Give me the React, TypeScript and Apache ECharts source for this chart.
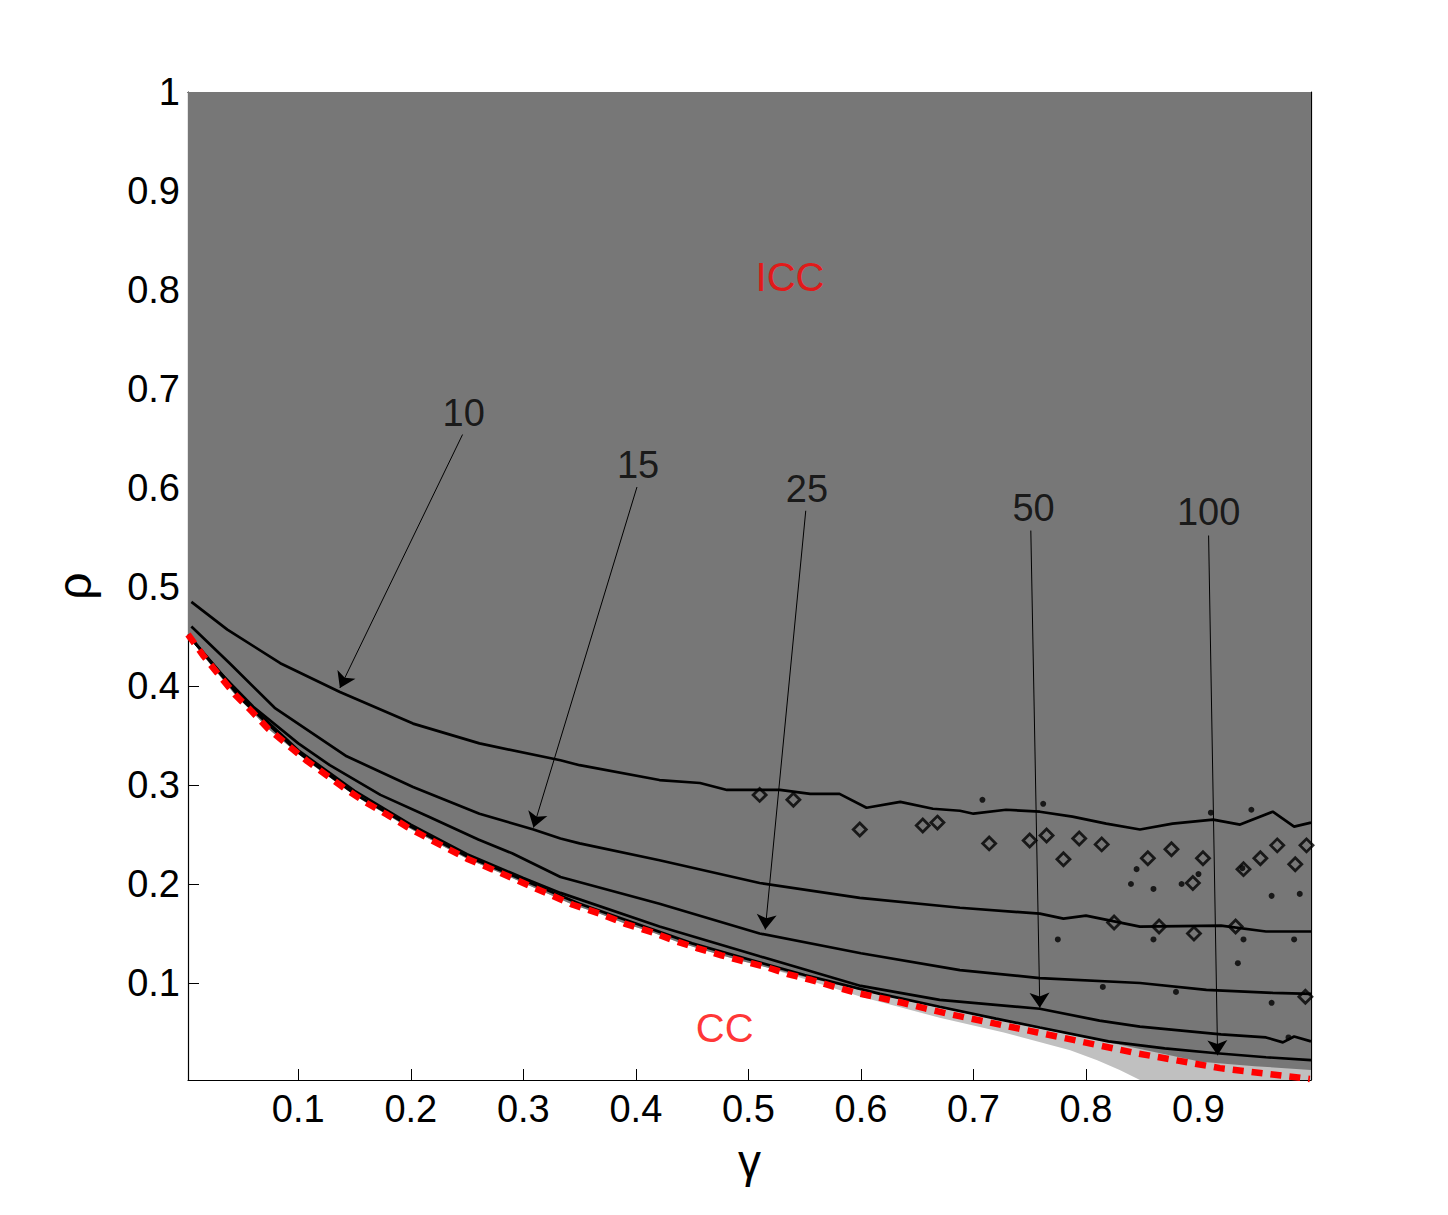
import React, { useEffect, useRef } from "react";
import * as echarts from "echarts";

const FONT = "Liberation Sans, Arial, Helvetica, sans-serif";

const xTicks = [0.1, 0.2, 0.3, 0.4, 0.5, 0.6, 0.7, 0.8, 0.9];
const yTicks = [0.1, 0.2, 0.3, 0.4, 0.5, 0.6, 0.7, 0.8, 0.9, 1];

// red dashed boundary between CC and ICC
const ccBoundary: number[][] = [
  [0.002, 0.452], [0.016, 0.43], [0.031, 0.409], [0.044, 0.391], [0.059, 0.374],
  [0.073, 0.357], [0.09, 0.341], [0.108, 0.324], [0.125, 0.31], [0.142, 0.296],
  [0.159, 0.283], [0.179, 0.27], [0.196, 0.258], [0.214, 0.247], [0.232, 0.236],
  [0.251, 0.225], [0.272, 0.215], [0.29, 0.206], [0.344, 0.179], [0.368, 0.17],
  [0.39, 0.16], [0.415, 0.151], [0.436, 0.142], [0.455, 0.135], [0.476, 0.128],
  [0.495, 0.122], [0.516, 0.116], [0.535, 0.109], [0.556, 0.103], [0.577, 0.096],
  [0.596, 0.09], [0.617, 0.085], [0.637, 0.08], [0.658, 0.074], [0.677, 0.069],
  [0.757, 0.05], [0.845, 0.029], [0.919, 0.014], [0.999, 0.003],
];

// lower edge of the dark grey (ICC) region, right part
const darkEdgeTail: number[][] = [
  [0.55, 0.106], [0.617, 0.088], [0.67, 0.075], [0.759, 0.054], [0.812, 0.042],
  [0.902, 0.0205], [0.95, 0.016], [1.0, 0.012],
];

// lower edge of the light grey region, right part
const lightEdgeTail: number[][] = [
  [0.55, 0.104], [0.6, 0.086], [0.64, 0.074], [0.67, 0.065], [0.727, 0.05],
  [0.786, 0.032], [0.81, 0.022], [0.83, 0.012], [0.848, 0.002], [1.0, 0.002],
];

const contour10: number[][] = [
  [0.005, 0.485], [0.037, 0.457], [0.084, 0.423], [0.137, 0.394], [0.202, 0.362],
  [0.261, 0.342], [0.333, 0.325], [0.35, 0.32], [0.421, 0.305], [0.457, 0.302],
  [0.481, 0.295], [0.495, 0.295], [0.528, 0.295], [0.555, 0.291], [0.581, 0.291],
  [0.605, 0.277], [0.635, 0.283], [0.664, 0.276], [0.688, 0.274], [0.7, 0.271],
  [0.729, 0.275], [0.759, 0.273], [0.788, 0.268], [0.818, 0.261], [0.848, 0.255],
  [0.877, 0.261], [0.913, 0.265], [0.937, 0.26], [0.966, 0.273], [0.985, 0.258],
  [1.0, 0.262],
];

const contour15: number[][] = [
  [0.005, 0.46], [0.039, 0.423], [0.079, 0.378], [0.143, 0.329], [0.202, 0.298],
  [0.261, 0.271], [0.309, 0.255], [0.333, 0.246], [0.35, 0.241], [0.421, 0.224],
  [0.51, 0.201], [0.599, 0.186], [0.688, 0.176], [0.759, 0.17], [0.78, 0.165],
  [0.8, 0.168], [0.848, 0.157], [0.92, 0.158], [0.96, 0.152], [1.0, 0.152],
];

const contour25: number[][] = [
  [0.002, 0.452], [0.03, 0.414], [0.06, 0.379], [0.1, 0.342], [0.128, 0.32],
  [0.173, 0.29], [0.216, 0.268], [0.26, 0.245], [0.29, 0.231], [0.333, 0.207],
  [0.421, 0.18], [0.51, 0.15], [0.6, 0.13], [0.688, 0.113], [0.759, 0.105],
  [0.848, 0.1], [0.907, 0.093], [0.966, 0.09], [1.0, 0.089],
];

const contour50: number[][] = [
  [0.002, 0.452], [0.05, 0.388], [0.1, 0.335], [0.15, 0.294], [0.2, 0.26],
  [0.25, 0.23], [0.3, 0.206], [0.333, 0.191], [0.421, 0.157], [0.51, 0.127],
  [0.6, 0.097], [0.67, 0.083], [0.759, 0.074], [0.812, 0.062], [0.848, 0.056],
  [0.92, 0.048], [0.96, 0.045], [0.975, 0.04], [0.985, 0.046], [1.0, 0.041],
];

const contour100: number[][] = [
  [0.002, 0.452], [0.05, 0.386], [0.1, 0.333], [0.15, 0.291], [0.2, 0.258],
  [0.25, 0.228], [0.3, 0.204], [0.35, 0.18], [0.4, 0.16], [0.45, 0.14],
  [0.5, 0.124], [0.55, 0.108], [0.617, 0.089], [0.67, 0.076], [0.72, 0.064],
  [0.759, 0.055], [0.82, 0.041], [0.87, 0.034], [0.916, 0.029], [0.96, 0.025],
  [1.0, 0.022],
];

// small closed contour islands (loops) and single-cell dots
const islandLoops: number[][] = [
  [0.51, 0.29], [0.54, 0.285], [0.599, 0.255], [0.655, 0.259], [0.668, 0.262],
  [0.714, 0.241], [0.75, 0.244], [0.765, 0.249], [0.78, 0.225], [0.794, 0.246],
  [0.814, 0.24], [0.855, 0.226], [0.876, 0.235], [0.895, 0.201], [0.904, 0.226],
  [0.94, 0.215], [0.955, 0.226], [0.97, 0.239], [0.986, 0.22], [0.996, 0.239],
  [0.825, 0.161], [0.865, 0.157], [0.896, 0.15], [0.933, 0.157], [0.995, 0.086],
];
const islandDots: number[][] = [
  [0.708, 0.285], [0.762, 0.281], [0.845, 0.215], [0.84, 0.2], [0.86, 0.195],
  [0.885, 0.2], [0.9, 0.21], [0.911, 0.272], [0.947, 0.275], [0.939, 0.216],
  [0.965, 0.188], [0.99, 0.19], [0.775, 0.144], [0.86, 0.144], [0.94, 0.144],
  [0.985, 0.144], [0.935, 0.12], [0.815, 0.096], [0.88, 0.091], [0.965, 0.08],
  [0.98, 0.045],
];

const contourNames = ["10", "15", "25", "50", "100"];
const contourLabelPos: number[][] = [
  [0.247, 0.676], [0.402, 0.623], [0.552, 0.599], [0.7535, 0.58], [0.909, 0.576],
];
const arrowTail: number[][] = [
  [0.246, 0.654], [0.401, 0.601], [0.551, 0.577], [0.751, 0.557], [0.909, 0.552],
];
const arrowHead: number[][] = [
  [0.137, 0.398], [0.309, 0.257], [0.515, 0.154], [0.759, 0.075], [0.917, 0.027],
];

const regionNames = ["ICC", "CC"];
const regionLabelPos: number[][] = [[0.537, 0.813], [0.479, 0.055]];

const darkEdge = ccBoundary.filter((p) => p[0] <= 0.5).concat(darkEdgeTail);
const lightEdge = ccBoundary.filter((p) => p[0] < 0.55).concat(lightEdgeTail);

const X_MIN = 0.002;
const X_MAX = 1;
const Y_MIN = 0.002;
const Y_MAX = 1;

function contourSeries(name: string, data: number[][]) {
  return {
    name,
    type: "line",
    data,
    symbol: "none",
    z: 3,
    silent: true,
    lineStyle: { color: "#000", width: 2.7 },
  };
}

export default function App() {
  const ref = useRef<HTMLDivElement>(null);
  useEffect(() => {
    document.body.style.margin = "0";
    const chart = echarts.init(ref.current!, null, { renderer: "svg" });
    const axisCommon = {
      type: "value",
      splitLine: { show: false },
      axisLine: { show: true, onZero: false, lineStyle: { color: "#000", width: 1.2 } },
    };
    const option: any = {
      animation: false,
      backgroundColor: "#fff",
      grid: { left: 188, right: 137, top: 92, bottom: 135 },
      xAxis: [
        {
          ...axisCommon,
          min: X_MIN,
          max: X_MAX,
          position: "bottom",
          axisTick: { show: true, inside: true, length: 11, customValues: xTicks, lineStyle: { color: "#000" } },
          axisLabel: {
            customValues: xTicks,
            formatter: (v: number) => v.toFixed(1),
            fontSize: 38,
            color: "#000",
            fontFamily: FONT,
            margin: 10,
          },
          name: "γ",
          nameLocation: "middle",
          nameGap: 58,
          nameTextStyle: { fontSize: 46, color: "#000", fontFamily: FONT },
        },
        {
          ...axisCommon,
          min: X_MIN,
          max: X_MAX,
          position: "top",
          axisTick: { show: true, inside: true, length: 11, customValues: xTicks, lineStyle: { color: "#000" } },
          axisLabel: { show: false },
        },
      ],
      yAxis: [
        {
          ...axisCommon,
          min: Y_MIN,
          max: Y_MAX,
          position: "left",
          axisTick: { show: true, inside: true, length: 11, customValues: yTicks, lineStyle: { color: "#000" } },
          axisLabel: {
            customValues: yTicks,
            formatter: (v: number) => (v === 1 ? "1" : v.toFixed(1)),
            fontSize: 38,
            color: "#000",
            fontFamily: FONT,
            margin: 8,
          },
          name: "ρ",
          nameLocation: "middle",
          nameGap: 90,
          nameTextStyle: { fontSize: 48, color: "#000", fontFamily: FONT },
        },
        {
          ...axisCommon,
          min: Y_MIN,
          max: Y_MAX,
          position: "right",
          axisTick: { show: true, inside: true, length: 11, customValues: yTicks, lineStyle: { color: "#000" } },
          axisLabel: { show: false },
        },
      ],
      series: [
        {
          name: "light",
          type: "line",
          data: lightEdge,
          symbol: "none",
          silent: true,
          z: 1,
          lineStyle: { width: 0 },
          areaStyle: { color: "#c0c0c0", opacity: 1, origin: "end" },
        },
        {
          name: "dark",
          type: "line",
          data: darkEdge,
          symbol: "none",
          silent: true,
          z: 2,
          lineStyle: { width: 0 },
          areaStyle: { color: "#777777", opacity: 1, origin: "end" },
        },
        contourSeries("10", contour10),
        contourSeries("15", contour15),
        contourSeries("25", contour25),
        contourSeries("50", contour50),
        contourSeries("100", contour100),
        {
          name: "boundary",
          type: "line",
          data: ccBoundary,
          symbol: "none",
          silent: true,
          z: 4,
          lineStyle: { color: "#ff0000", width: 6.5, type: [11, 8] },
        },
        {
          name: "loops",
          type: "scatter",
          data: islandLoops,
          symbol: "diamond",
          symbolSize: 13,
          silent: true,
          z: 5,
          itemStyle: { color: "rgba(0,0,0,0)", borderColor: "#000", borderWidth: 2.8 },
        },
        {
          name: "dots",
          type: "scatter",
          data: islandDots,
          symbol: "circle",
          symbolSize: 6,
          silent: true,
          z: 5,
          itemStyle: { color: "#000" },
        },
        {
          name: "contourLabels",
          type: "scatter",
          silent: true,
          z: 6,
          symbolSize: 1,
          itemStyle: { color: "rgba(0,0,0,0)" },
          data: contourNames.map((n, i) => ({
            value: contourLabelPos[i],
            label: { show: true, position: "inside", formatter: n, fontSize: 38, color: "#000", fontFamily: FONT },
          })),
          markLine: {
            silent: true,
            symbol: ["none", "arrow"],
            symbolSize: 15,
            label: { show: false },
            lineStyle: { color: "#000", width: 1, type: "solid" },
            data: arrowTail.map((t, i) => [{ coord: t }, { coord: arrowHead[i] }]),
          },
        },
        {
          name: "regionLabels",
          type: "scatter",
          silent: true,
          z: 6,
          symbolSize: 1,
          itemStyle: { color: "rgba(0,0,0,0)" },
          data: regionNames.map((n, i) => ({
            value: regionLabelPos[i],
            label: { show: true, position: "inside", formatter: n, fontSize: 40, color: "#ff0000", fontFamily: FONT },
          })),
        },
      ],
    };
    chart.setOption(option);
    return () => chart.dispose();
  }, []);
  return <div ref={ref} style={{ width: 1448, height: 1215 }} />;
}
